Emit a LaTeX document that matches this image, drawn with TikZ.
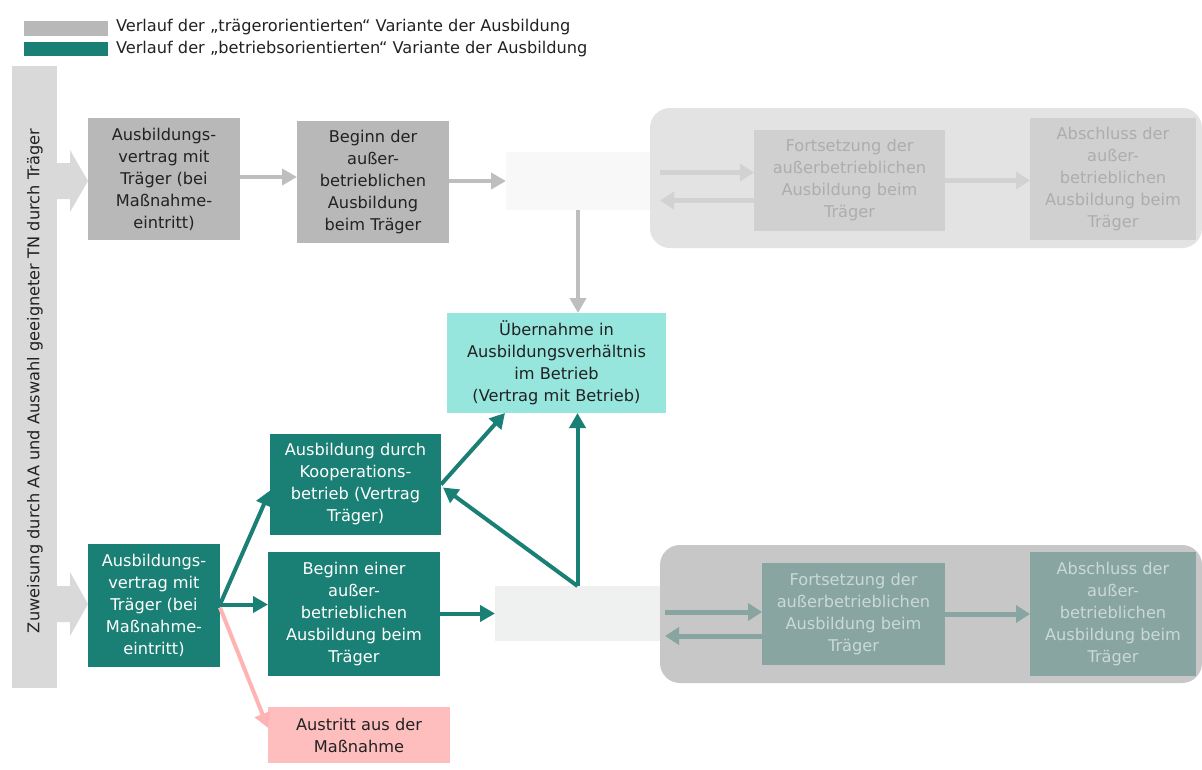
\documentclass[tikz,border=0pt]{standalone}
\usepackage{fontspec}
\setmainfont{DejaVu Sans}
\usetikzlibrary{arrows.meta,calc}
\definecolor{grbox}{HTML}{B8B8B9}
\definecolor{grarr}{HTML}{BEBEBF}
\definecolor{barcol}{HTML}{D9D9D9}
\definecolor{ghostT}{HTML}{F8F8F8}
\definecolor{ghostB}{HTML}{EFF1F0}
\definecolor{panT}{HTML}{E3E3E3}
\definecolor{panTbox}{HTML}{D0D0D0}
\definecolor{panTtxt}{HTML}{ADADAD}
\definecolor{panTarr}{HTML}{D2D2D2}
\definecolor{panB}{HTML}{C7C7C7}
\definecolor{panBbox}{HTML}{88A5A1}
\definecolor{panBtxt}{HTML}{CAD9D6}
\definecolor{teal}{HTML}{1A7F74}
\definecolor{turq}{HTML}{96E6DE}
\definecolor{pinkbox}{HTML}{FFBEBE}
\definecolor{pinkarr}{HTML}{FFB4B4}
\definecolor{darktxt}{HTML}{222222}
\begin{document}
\begin{tikzpicture}[x=1pt,y=-1pt,
  every node/.style={inner sep=0pt, outer sep=0pt},
  bx/.style={rectangle, align=center, font=\fontsize{16.2}{22}\selectfont},
  gbox/.style={bx, fill=grbox, text=darktxt},
  tbox/.style={bx, fill=teal, text=white},
  ptbox/.style={bx, fill=panTbox, text=panTtxt},
  pbbox/.style={bx, fill=panBbox, text=panBtxt},
  arr/.style={line width=4pt, -{Triangle[length=15pt,width=16pt]}},
  garr/.style={arr, draw=grarr},
  tarr/.style={arr, draw=teal},
  parr/.style={arr, draw=pinkarr},
  ptarr/.style={line width=5pt, draw=panTarr, -{Triangle[length=14pt,width=17pt]}},
  pbarr/.style={line width=5pt, draw=panBbox, -{Triangle[length=14pt,width=17pt]}},
  legtxt/.style={anchor=west, font=\fontsize{16.2}{20}\selectfont, text=darktxt}
]
\useasboundingbox (0,0) rectangle (1202,769);
\fill[white] (0,0) rectangle (1202,769);

% legend
\node[fill=grbox, minimum width=84pt, minimum height=15pt] (leg1) at (66,28) {};
\node[fill=teal, minimum width=84pt, minimum height=14pt] (leg2) at (66,49) {};
\node[legtxt] (legt1) at (116,27) {Verlauf der „trägerorientierten“ Variante der Ausbildung};
\node[legtxt] (legt2) at (116,49) {Verlauf der „betriebsorientierten“ Variante der Ausbildung};

% left bar
\node[fill=barcol, minimum width=45pt, minimum height=622pt] (bar) at (34.5,377) {};
\node[rotate=90, font=\fontsize{16.2}{20}\selectfont, text=darktxt] (bartxt) at (35,381) {Zuweisung durch AA und Auswahl geeigneter TN durch Träger};
\fill[barcol] (57,163) -- (70,163) -- (70,150) -- (88,181) -- (70,212) -- (70,199) -- (57,199) -- cycle;
\fill[barcol] (57,586) -- (70,586) -- (70,572) -- (88,604) -- (70,636) -- (70,622) -- (57,622) -- cycle;

% panels
\node[fill=panT, rounded corners=20pt, minimum width=552pt, minimum height=140pt] (panelT) at (926,178) {};
\node[fill=panB, rounded corners=20pt, minimum width=542pt, minimum height=138pt] (panelB) at (931,614) {};

% top row
\node[gbox, minimum width=152pt, minimum height=122pt] (a1) at (164,179) {Ausbildungs-\\vertrag mit\\Träger (bei\\Maßnahme-\\eintritt)};
\node[gbox, minimum width=152pt, minimum height=122pt] (a2) at (373,182) {Beginn der\\außer-\\betrieblichen\\Ausbildung\\beim Träger};
\node[fill=ghostT, minimum width=144pt, minimum height=58pt] (gT) at (578,181) {};
\node[ptbox, minimum width=191pt, minimum height=101pt] (f1) at (849.5,180.5) {Fortsetzung der\\außerbetrieblichen\\Ausbildung beim\\Träger};
\node[ptbox, minimum width=166pt, minimum height=122pt] (s1) at (1113,179) {Abschluss der\\außer-\\betrieblichen\\Ausbildung beim\\Träger};

% middle
\node[bx, fill=turq, text=darktxt, minimum width=219pt, minimum height=100pt] (ueb) at (556.5,363) {Übernahme in\\Ausbildungsverhältnis\\im Betrieb\\(Vertrag mit Betrieb)};

% bottom row
\node[tbox, minimum width=132pt, minimum height=123pt] (b1) at (154,605.5) {Ausbildungs-\\vertrag mit\\Träger (bei\\Maßnahme-\\eintritt)};
\node[tbox, minimum width=171pt, minimum height=101pt] (koop) at (355.5,484.5) {Ausbildung durch\\Kooperations-\\betrieb (Vertrag\\Träger)};
\node[tbox, minimum width=172pt, minimum height=124pt] (beg) at (354,614) {Beginn einer\\außer-\\betrieblichen\\Ausbildung beim\\Träger};
\node[bx, fill=pinkbox, text=darktxt, minimum width=182pt, minimum height=56pt] (aus) at (359,735) {Austritt aus der\\Maßnahme};
\node[fill=ghostB, minimum width=165pt, minimum height=55pt] (gB) at (577.5,613.5) {};
\node[pbbox, minimum width=183pt, minimum height=102pt] (f2) at (853.5,614) {Fortsetzung der\\außerbetrieblichen\\Ausbildung beim\\Träger};
\node[pbbox, minimum width=166pt, minimum height=124pt] (s2) at (1113,614) {Abschluss der\\außer-\\betrieblichen\\Ausbildung beim\\Träger};

% top connectors
\draw[garr] ($(a1.east)+(0,-2)$) -- ($(a2.west |- a1.east)+(0,-2)$);
\draw[garr] (a2.east |- gT.west) -- (gT.west);
\draw[garr] (gT.south) -- (ueb.north -| gT.south);
\draw[ptarr] ($(panelT.west |- f1.west)+(10,-8)$) -- ($(f1.west)+(0,-8)$);
\draw[ptarr] ($(f1.west)+(0,20)$) -- ($(panelT.west |- f1.west)+(10,20)$);
\draw[ptarr] (f1.east) -- (s1.west |- f1.east);

% bottom connectors
\coordinate (jB) at ($(b1.east)+(0,-1)$);
\coordinate (jP) at ($(b1.east)+(0,2)$);
\draw[tarr] (jB) -- ($(koop.west)+(0,6)$);
\draw[tarr] (jB) -- (beg.west |- jB);
\draw[parr] (jP) -- ($(aus.west)+(0,-7)$);
\draw[tarr] (beg.east |- gB.west) -- (gB.west);
\coordinate (jG) at (gB.north);
\draw[tarr] (koop.east) -- (ueb.south -| 505,0);
\draw[tarr] (jG) -- ($(koop.east)+(2,3)$);
\draw[tarr] (jG) -- (ueb.south -| jG);
\draw[pbarr] ($(panelB.west |- f2.west)+(5,-2)$) -- ($(f2.west)+(0,-2)$);
\draw[pbarr] ($(f2.west)+(0,22)$) -- ($(panelB.west |- f2.west)+(5,22)$);
\draw[pbarr] (f2.east) -- (s2.west |- f2.east);
\end{tikzpicture}
\end{document}
